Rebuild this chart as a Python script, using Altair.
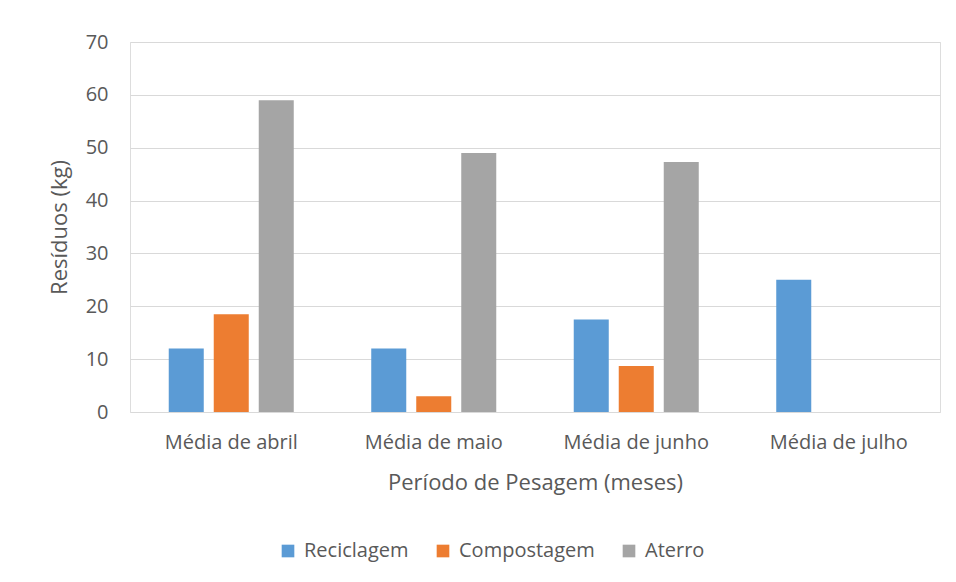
import altair as alt
import pandas as pd

meses = ["Média de abril", "Média de maio", "Média de junho", "Média de julho"]
series = ["Reciclagem", "Compostagem", "Aterro"]
reciclagem = [12, 12, 17.5, 25]
compostagem = [18.5, 3, 8.7, 0]
aterro = [59, 49, 47.3, 0]
cores = ["#5B9BD5", "#ED7D31", "#A5A5A5"]

rows = []
for i, m in enumerate(meses):
    for s, vals in zip(series, [reciclagem, compostagem, aterro]):
        rows.append({"mes": m, "serie": s, "valor": vals[i]})
df = pd.DataFrame(rows)

FONT = "Open Sans"
GRAY = "#595959"

chart = alt.Chart(df).mark_bar().encode(
    x=alt.X("mes:N", sort=meses,
            scale=alt.Scale(paddingInner=0, paddingOuter=0),
            axis=alt.Axis(title="Período de Pesagem (meses)", labelAngle=0,
                          labelFontSize=20, labelColor=GRAY, labelFont=FONT,
                          labelPadding=20, ticks=False, domain=False,
                          titleFontSize=22, titleFont=FONT, titleColor=GRAY,
                          titleFontWeight="normal", titlePadding=20)),
    xOffset=alt.XOffset("serie:N", sort=series,
                        scale=alt.Scale(paddingInner=0.222, paddingOuter=0.861)),
    y=alt.Y("valor:Q",
            scale=alt.Scale(domain=[0, 70]),
            axis=alt.Axis(title="Resíduos (kg)", values=[0, 10, 20, 30, 40, 50, 60, 70],
                          labelFontSize=20, labelColor=GRAY, labelFont=FONT,
                          labelPadding=22, ticks=False, domain=False,
                          gridColor="#D9D9D9", gridWidth=1,
                          titleFontSize=22, titleFont=FONT, titleColor=GRAY,
                          titleFontWeight="normal", titlePadding=14)),
    color=alt.Color("serie:N", sort=series,
                    scale=alt.Scale(domain=series, range=cores),
                    legend=alt.Legend(title=None, orient="none", direction="horizontal",
                                      legendX=148, legendY=499,
                                      symbolType="square", symbolSize=160,
                                      symbolStrokeWidth=0,
                                      labelFontSize=20, labelFont=FONT, labelColor=GRAY,
                                      columnPadding=24, labelOffset=6)),
).properties(
    width=810, height=370,
    autosize=alt.AutoSizeParams(type="none"),
    padding={"left": 122, "top": 34, "right": 8, "bottom": 162},
).configure_view(stroke=None).configure(background="white")

chart.save("out.html", embed_options={"renderer": "svg", "actions": False})
